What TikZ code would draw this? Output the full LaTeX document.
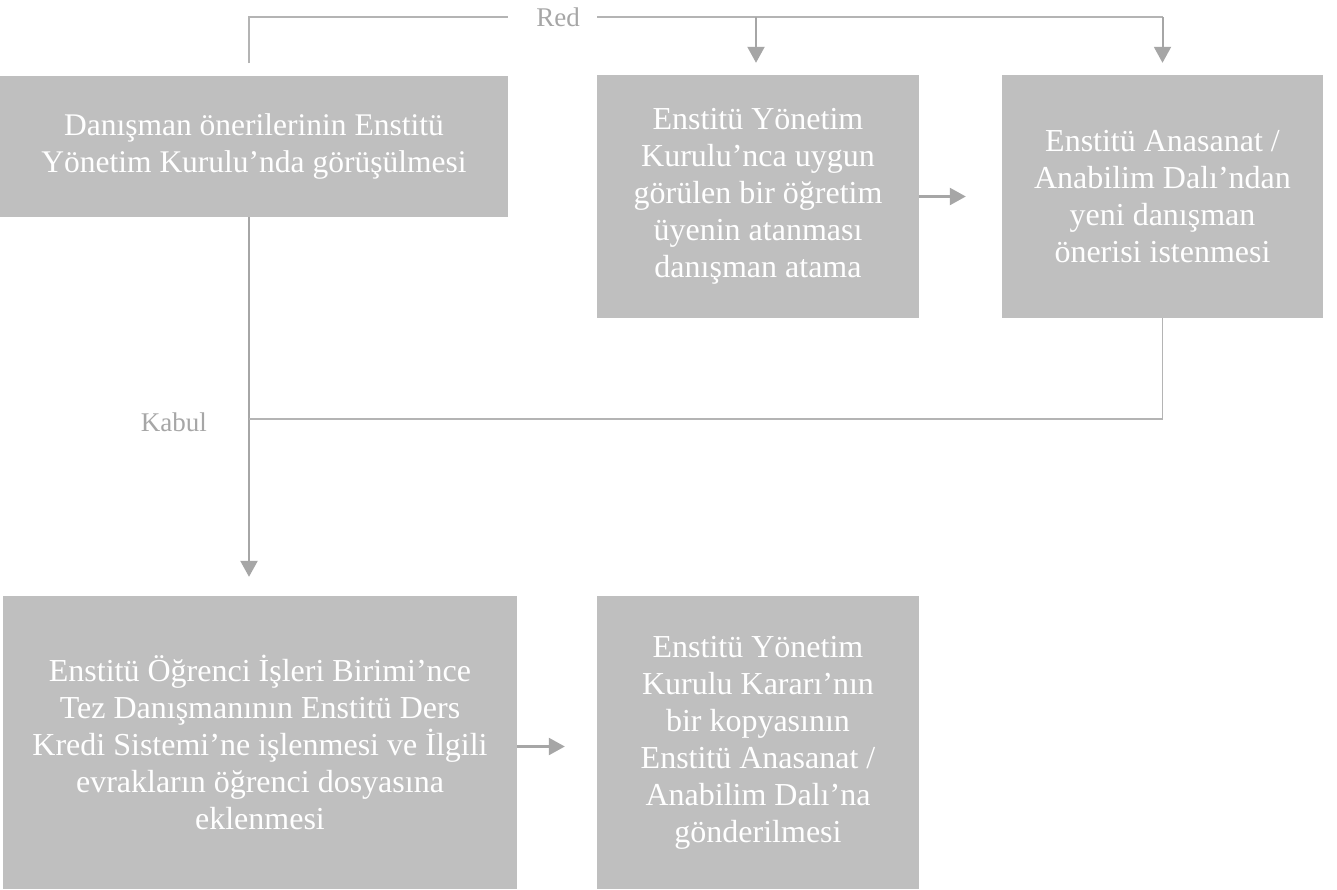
\documentclass[tikz,border=0pt]{standalone}
\usepackage{fontspec}
\setmainfont{Liberation Serif}
\usetikzlibrary{arrows.meta,calc}
\definecolor{boxgray}{RGB}{191,191,191}
\definecolor{linegray}{RGB}{166,166,166}
\definecolor{thingray}{RGB}{180,180,180}
\begin{document}
\begin{tikzpicture}[x=1pt,y=-1pt,
  box/.style={fill=boxgray, text=white, align=center, inner sep=0pt, font=\fontsize{32}{37}\selectfont},
  thinline/.style={draw=thingray, line width=1.4pt},
  arrowline/.style={draw=linegray, line width=2.4pt, -{Triangle[width=17pt,length=16pt]}},
  lbl/.style={text=linegray, font=\fontsize{27}{31}\selectfont, inner sep=0pt}]
\useasboundingbox (0,0) rectangle (1337,889);
\fill[white] (0,0) rectangle (1337,889);

\node[box, minimum width=508pt, minimum height=141pt, font=\fontsize{31.5}{37}\selectfont] (b1) at (254,146.5)
  {Danışman önerilerinin Enstitü\\Yönetim Kurulu’nda görüşülmesi};
\node[box, minimum width=322pt, minimum height=243pt] (b2) at (758,196.5)
  {Enstitü Yönetim\\Kurulu’nca uygun\\görülen bir öğretim\\üyenin atanması\\danışman atama};
\node[box, minimum width=321pt, minimum height=243pt] (b3) at (1162.5,196.5)
  {Enstitü Anasanat /\\Anabilim Dalı’ndan\\yeni danışman\\önerisi istenmesi};
\node[box, minimum width=514pt, minimum height=293pt] (b4) at (260,742.5)
  {Enstitü Öğrenci İşleri Birimi’nce\\Tez Danışmanının Enstitü Ders\\Kredi Sistemi’ne işlenmesi ve İlgili\\evrakların öğrenci dosyasına\\eklenmesi};
\node[box, minimum width=322pt, minimum height=293pt] (b5) at (758,742.5)
  {Enstitü Yönetim\\Kurulu Kararı’nın\\bir kopyasının\\Enstitü Anasanat /\\Anabilim Dalı’na\\gönderilmesi};

\coordinate (t0) at (249,63);
\coordinate (tl) at (249,17);
\coordinate (j) at (249,419);

% Red branch
\draw[thinline] (t0) -- (tl) -- (508,17);
\draw[thinline] (597,17) -- (b3.north |- tl);
\node[lbl, anchor=center] (red) at (558,17) {Red};
\draw[arrowline, line width=2pt, shorten >=12pt] (756,17) -- (b2.north -| 756,0);
\draw[arrowline, line width=2pt, shorten >=12pt] (b3.north |- tl) -- (b3.north);

% Kabul branch
\draw[arrowline, shorten >=19pt] (b1.south -| j) -- (b4.north -| j);
\draw[thinline] (b3.south) -- (b3.south |- j) -- (j);
\node[lbl, anchor=east] (kabul) at (207,422) {Kabul};

% horizontal arrows
\draw[arrowline, shorten >=36pt] (b2.east) -- (b3.west);
\draw[arrowline, shorten >=32pt] ([yshift=-4pt]b4.east) -- ([yshift=-4pt]b5.west);
\end{tikzpicture}
\end{document}
